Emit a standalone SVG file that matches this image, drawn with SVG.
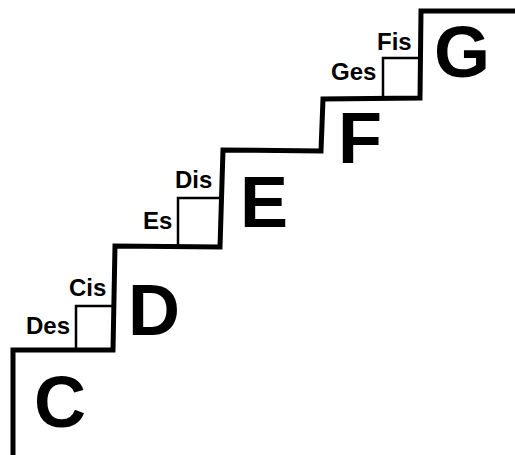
<svg xmlns="http://www.w3.org/2000/svg" width="515" height="455" viewBox="0 0 515 455">
<style>
.stair{fill:none;stroke:#000;stroke-width:5;stroke-linejoin:miter;stroke-linecap:butt}
.box{fill:none;stroke:#000;stroke-width:2.5}
.big{font-family:"Liberation Sans",Arial,sans-serif;font-weight:bold;font-size:72px;fill:#000}
.small{font-family:"Liberation Sans",Arial,sans-serif;font-weight:bold;font-size:24px;fill:#000}
</style>
<rect width="515" height="455" fill="#fff"/>
<g id="connectors">
<path id="staircase" class="stair" d="M13 455 L13 350 L113 350 L115 246 L220 247 L223 150 L321 151 L323 99 L420 98 L421 11 L515 11"/>
<path id="box-cis" class="box" d="M76 350 L76 306 L113 306"/>
<path id="box-dis" class="box" d="M178 247 L178 198 L221 198"/>
<path id="box-fis" class="box" d="M383 99 L383 58 L421 58"/>
</g>
<g id="node-C"><text class="big" x="34" y="427">C</text></g>
<g id="node-D"><text class="big" x="128" y="335">D</text></g>
<g id="node-E"><text class="big" x="240" y="227">E</text></g>
<g id="node-F"><text class="big" x="338" y="163">F</text></g>
<g id="node-G"><text class="big" x="434" y="77">G</text></g>
<g id="node-Des"><text class="small" x="26" y="334">Des</text></g>
<g id="node-Cis"><text class="small" x="69" y="296">Cis</text></g>
<g id="node-Es"><text class="small" x="143" y="229">Es</text></g>
<g id="node-Dis"><text class="small" x="175" y="188">Dis</text></g>
<g id="node-Ges"><text class="small" x="331" y="80">Ges</text></g>
<g id="node-Fis"><text class="small" x="377" y="50">Fis</text></g>
</svg>
